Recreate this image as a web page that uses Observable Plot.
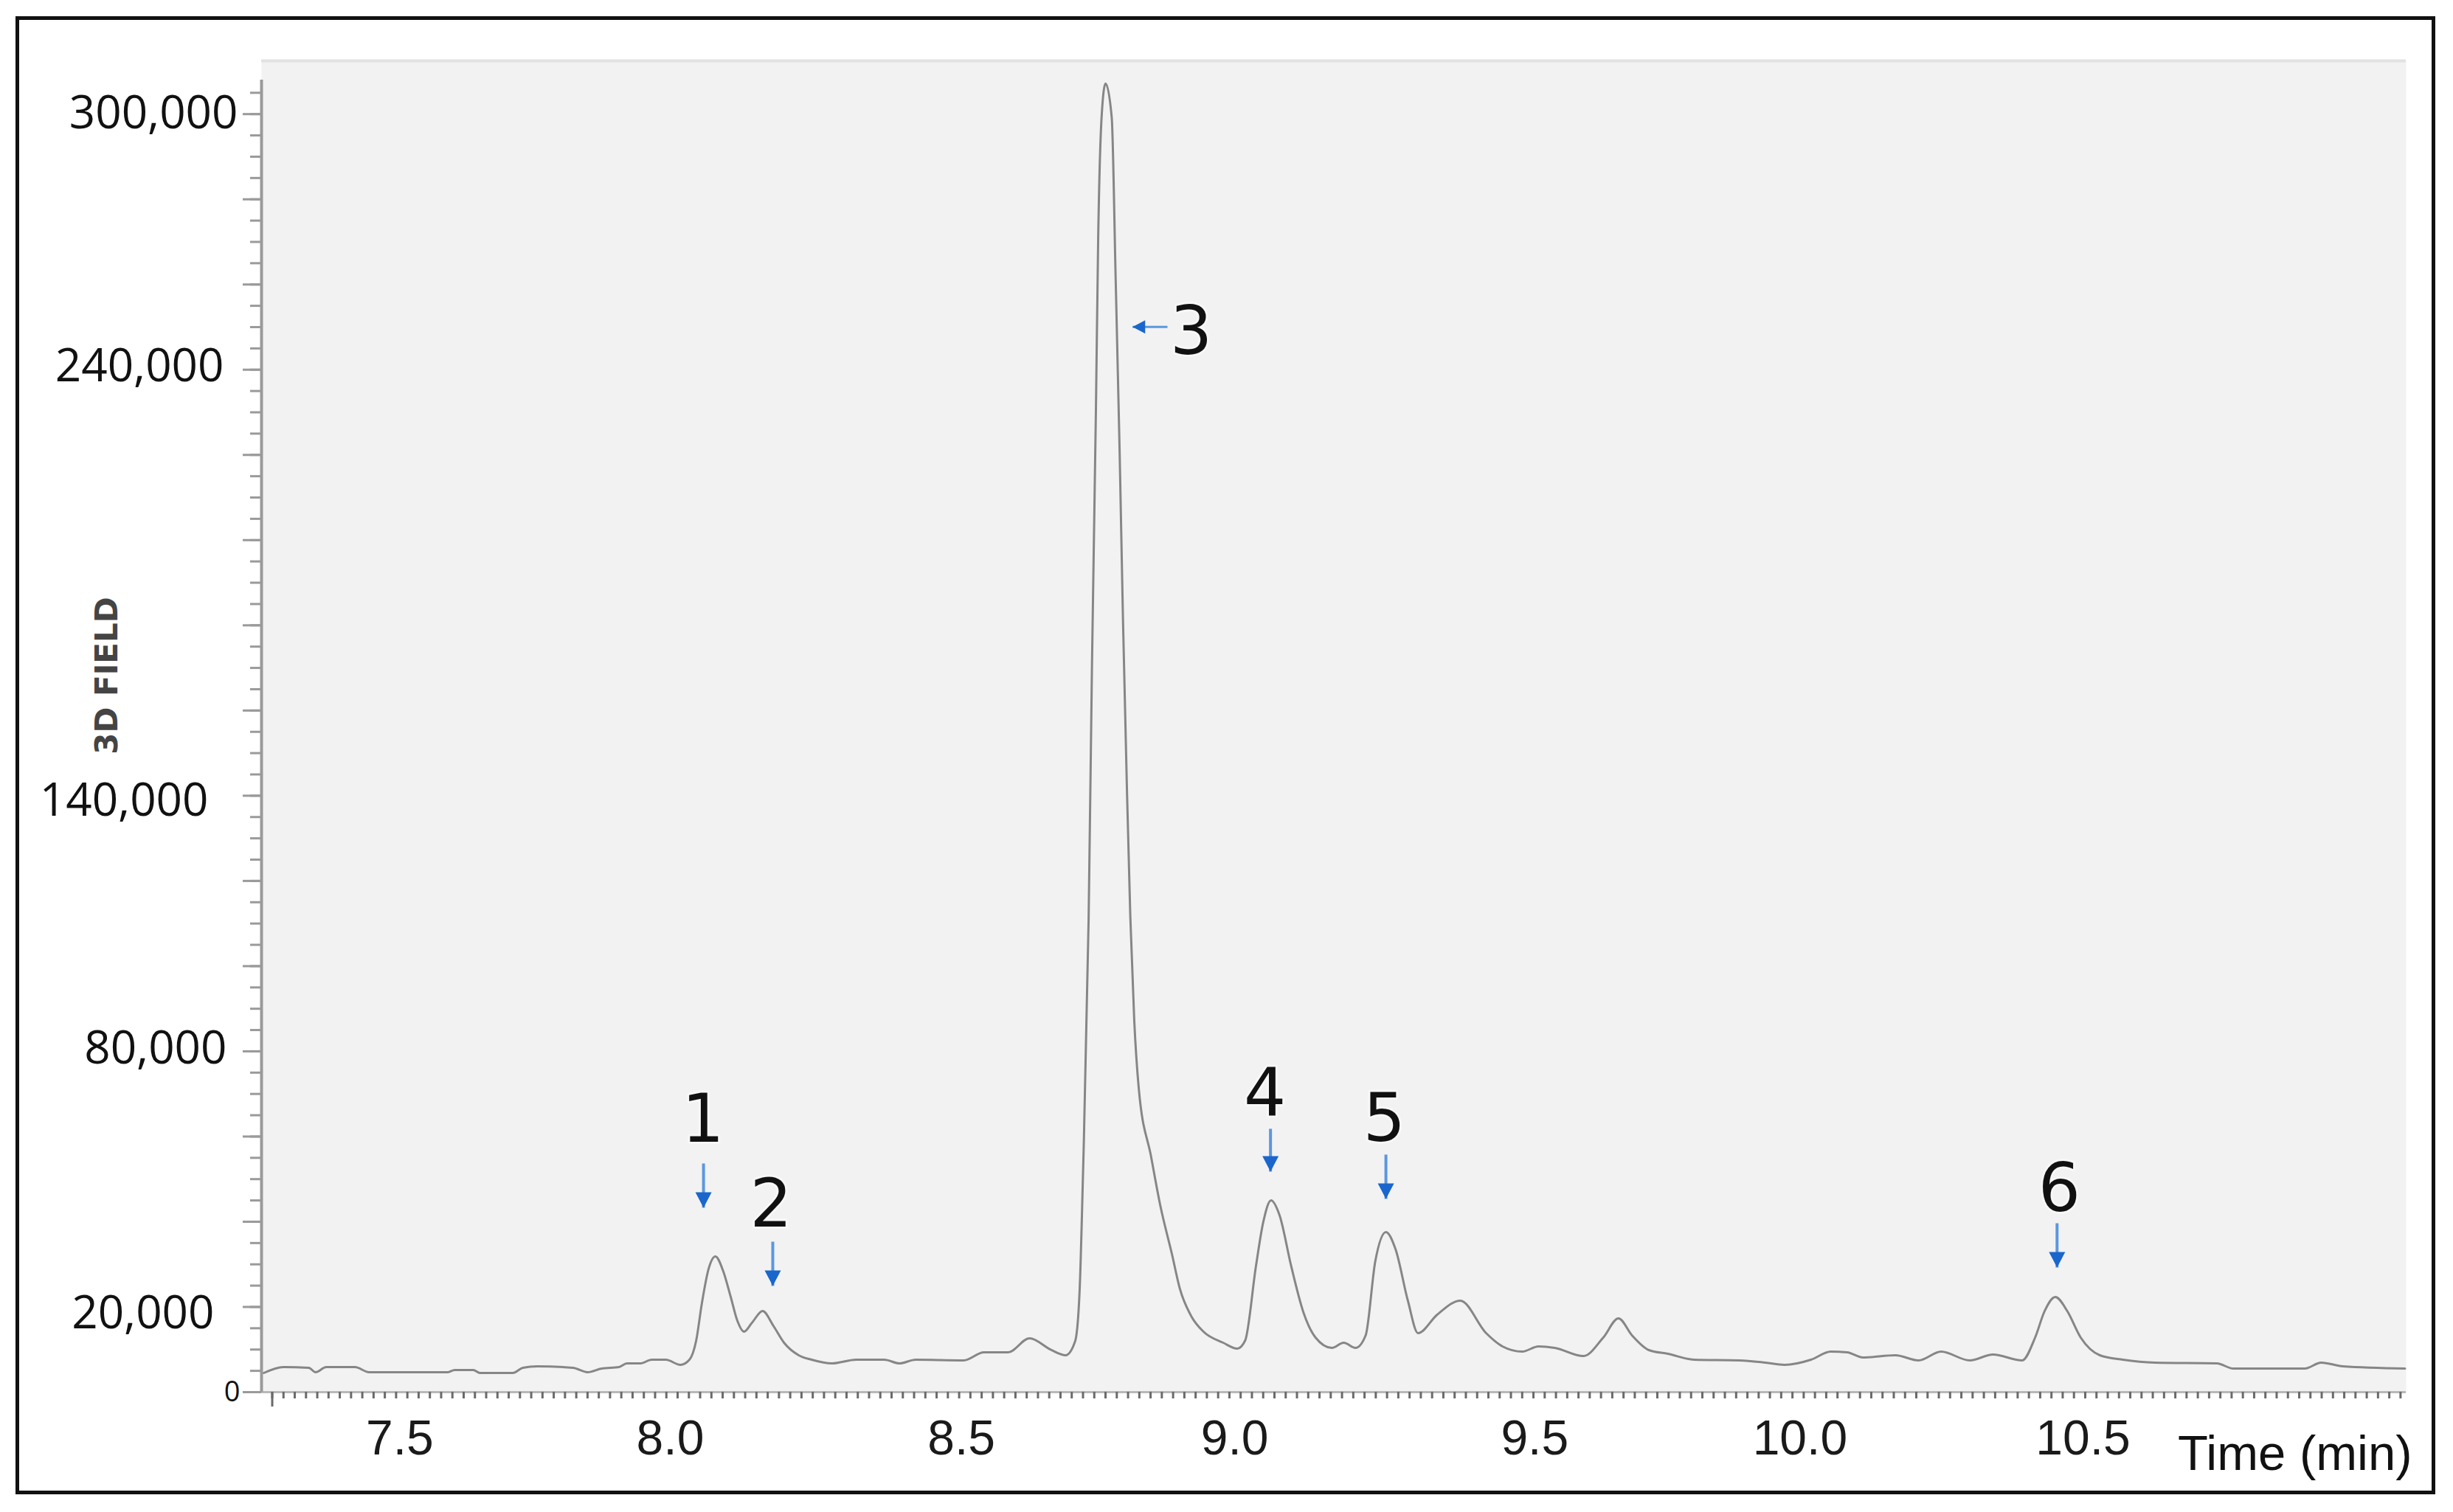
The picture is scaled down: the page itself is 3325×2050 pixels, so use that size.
<!DOCTYPE html>
<html>
<head>
<meta charset="utf-8">
<script src="https://cdn.jsdelivr.net/npm/d3@7"></script>
<script src="https://cdn.jsdelivr.net/npm/@observablehq/plot@0.6"></script>
<style>
  html, body { margin: 0; padding: 0; background: #ffffff; }
  #wrap { position: relative; width: 3325px; height: 2050px; }
  #border { position: absolute; left: 21px; top: 22px; width: 3280px; height: 2004px;
            border: 5px solid #111; box-sizing: border-box; pointer-events: none; }
</style>
</head>
<body>
<div id="wrap"><div id="chart"></div><div id="border"></div></div>
<script>
// ---- data ----
const timeMin = [
  7.265, 7.300, 7.345, 7.357, 7.376, 7.427, 7.452, 7.592, 7.604, 7.637,
  7.649, 7.707, 7.725, 7.751, 7.814, 7.840, 7.865, 7.896, 7.910, 7.934,
  7.954, 7.979, 8.005, 8.021, 8.033, 8.043, 8.055, 8.067, 8.081, 8.094,
  8.106, 8.118, 8.132, 8.151, 8.170, 8.189, 8.215, 8.238, 8.274, 8.317,
  8.367, 8.394, 8.423, 8.508, 8.544, 8.587, 8.625, 8.664, 8.689, 8.706,
  8.714, 8.720, 8.730, 8.736, 8.743, 8.747, 8.753, 8.760, 8.771, 8.778,
  8.785, 8.791, 8.798, 8.804, 8.811, 8.819, 8.841, 8.857, 8.878, 8.892,
  8.913, 8.934, 8.969, 8.994, 9.008, 9.027, 9.040, 9.054, 9.069, 9.090,
  9.112, 9.133, 9.162, 9.183, 9.204, 9.222, 9.239, 9.258, 9.275, 9.297,
  9.315, 9.349, 9.390, 9.436, 9.465, 9.500, 9.529, 9.558, 9.609, 9.644,
  9.671, 9.695, 9.725, 9.759, 9.805, 9.886, 9.932, 9.966, 10.013, 10.048,
  10.077, 10.105, 10.163, 10.204, 10.244, 10.295, 10.336, 10.388, 10.411, 10.428,
  10.447, 10.468, 10.492, 10.526, 10.567, 10.624, 10.734, 10.763, 10.890, 10.919,
  10.958, 11.068
];
const signal = [
  4500, 5890, 5710, 4680, 5890, 5890, 4680, 4680, 5200, 5200,
  4500, 4500, 5710, 6060, 5710, 4680, 5540, 5890, 6750, 6750,
  7620, 7620, 6410, 7620, 12120, 20780, 28920, 31860, 28400, 22510,
  16800, 14200, 16280, 19050, 15580, 11600, 8660, 7620, 6750, 7620,
  7620, 6750, 7620, 7450, 9350, 9350, 12640, 9870, 8660, 11950,
  23900, 51260, 111170, 171250, 231170, 271170, 299220, 307190, 299220, 261300,
  221130, 181300, 141640, 111690, 87270, 71340, 55240, 43980, 32380, 24300,
  17660, 14200, 11600, 10220, 12120, 29440, 39830, 45020, 41560, 29440,
  18530, 12810, 10390, 11600, 10390, 13330, 30650, 37580, 33590, 21470,
  13850, 18180, 21470, 13850, 10740, 9520, 10740, 10390, 8480, 12810,
  17320, 13330, 9870, 9000, 7620, 7450, 6930, 6410, 7620, 9520,
  9350, 8140, 8660, 7450, 9520, 7450, 8830, 7450, 12810, 19050,
  22340, 19050, 12810, 8660, 7620, 6930, 6750, 5540, 5540, 6930,
  6060, 5540
];

// peak annotations
const peakLabels = ["1", "2", "3", "4", "5", "6"];
const peakLabelTime = [8.045, 8.166, 8.912, 9.043, 9.255, 10.454];
const peakLabelValue = [58700, 38790, 243640, 64760, 58870, 42420];

// vertical arrows (down) for peaks 1, 2, 4, 5, 6
const arrowPeak = ["1", "2", "4", "5", "6"];
const arrowTime = [8.046, 8.169, 9.053, 9.258, 10.450];
const arrowFrom = [53680, 35320, 61820, 55760, 39650];
const arrowTo = [43290, 24940, 51770, 45370, 29260];

// horizontal arrow (left) for peak 3
const arrow3TimeFrom = [8.870];
const arrow3TimeTo = [8.808];
const arrow3Value = [250040];

// axis tick labels
const yTickLabels = [0, 20000, 80000, 140000, 240000, 300000];
const xTickLabels = [7.5, 8.0, 8.5, 9.0, 9.5, 10.0, 10.5];
const xAxisTitle = "Time (min)";
const yAxisTitle = "3D FIELD";

// ---- styles (hand-placed label offsets of the original) ----
const yLabelStyle = {
  0:      {pad: 29, dy: 0,  size: 38},
  20000:  {pad: 64, dy: 9,  size: 62},
  80000:  {pad: 47, dy: -3, size: 62},
  140000: {pad: 72, dy: 7,  size: 62},
  240000: {pad: 51, dy: -4, size: 62},
  300000: {pad: 32, dy: -1, size: 62}
};
const xLabelDx = [5, -10, 3, -8, 17, -5, -3];

const xDomain = [7.261, 11.07];
const yDomain = [0, 312500];

const trace = timeMin.map((t, i) => ({t, v: signal[i]}));
const labels = peakLabels.map((p, i) => ({p, t: peakLabelTime[i], v: peakLabelValue[i]}));
const arrows = arrowPeak.map((p, i) => ({p, t: arrowTime[i], from: arrowFrom[i], to: arrowTo[i]}));
const arrow3 = arrow3Value.map((v, i) => ({v, t1: arrow3TimeFrom[i], t2: arrow3TimeTo[i]}));

const yMinor = d3.range(0, 305001, 5000);
const yMajor = d3.range(0, 300001, 20000);
const xMinor = d3.range(0, 190).map(i => +(7.28 + i * 0.02).toFixed(2));

const downHead = {
  draw(ctx, size) {
    const r = Math.sqrt(size / Math.PI);
    ctx.moveTo(0, 0); ctx.lineTo(-r, -1.9 * r); ctx.lineTo(r, -1.9 * r); ctx.closePath();
  }
};
const leftHead = {
  draw(ctx, size) {
    const r = Math.sqrt(size / Math.PI);
    ctx.moveTo(0, 0); ctx.lineTo(1.9 * r, -r); ctx.lineTo(1.9 * r, r); ctx.closePath();
  }
};

const blueShaft = "#5b97de";
const blueHead = "#1a66cc";

const marks = [
  Plot.frame({fill: "#f2f2f2", stroke: "none"}),
  Plot.ruleY([yDomain[1]], {stroke: "#e2e2e2", strokeWidth: 4}),
  // x axis line and ticks
  Plot.ruleY([0], {stroke: "#b8b8b8", strokeWidth: 3}),
  Plot.axisX(xMinor, {tickSize: 9, tickFormat: () => "", stroke: "#6a6a6a", strokeWidth: 3, label: null}),
  Plot.axisX([7.28], {tickSize: 20, tickFormat: () => "", stroke: "#6a6a6a", strokeWidth: 3, label: null}),
  ...xTickLabels.map((t, i) => Plot.axisX([t], {
    tickSize: 0, tickPadding: 38, dx: xLabelDx[i], fontSize: 66,
    fontFamily: "Liberation Sans", fill: "#1a1a1a", tickFormat: d3.format(".1f"), label: null
  })),
  // y axis line and ticks
  Plot.ruleX([xDomain[0]], {y1: 0, y2: 308000, stroke: "#9a9a9a", strokeWidth: 4}),
  Plot.axisY(yMinor, {tickSize: 15, tickFormat: () => "", stroke: "#9a9a9a", strokeWidth: 3, label: null}),
  Plot.axisY(yMajor, {tickSize: 25, tickFormat: () => "", stroke: "#9a9a9a", strokeWidth: 3, label: null}),
  ...yTickLabels.map(v => Plot.axisY([v], {
    tickSize: 0, tickPadding: yLabelStyle[v].pad, dy: yLabelStyle[v].dy,
    fontSize: yLabelStyle[v].size, fontFamily: "Open Sans", fill: "#111",
    tickFormat: d3.format(","), label: null
  })),
  // trace
  Plot.line(trace, {x: "t", y: "v", stroke: "#868686", strokeWidth: 3, curve: "monotone-x"}),
  // arrows
  Plot.link(arrows, {x1: "t", x2: "t", y1: "from", y2: "to", stroke: blueShaft, strokeWidth: 4}),
  Plot.dot(arrows, {x: "t", y: "to", symbol: downHead, r: 11, fill: blueHead}),
  Plot.link(arrow3, {x1: "t1", x2: "t2", y1: "v", y2: "v", stroke: blueShaft, strokeWidth: 3}),
  Plot.dot(arrow3, {x: "t2", y: "v", symbol: leftHead, r: 9, fill: blueHead}),
  // peak numbers
  Plot.text(labels, {
    x: "t", y: "v", text: "p", fontSize: 90, fontFamily: "DejaVu Sans",
    fill: "#111", lineAnchor: "bottom", textAnchor: "middle",
    stroke: "#fafafa", strokeWidth: 6, strokeOpacity: 0.7
  }),
  // axis titles
  Plot.text([yAxisTitle], {
    frameAnchor: "left", rotate: -90, dx: -209, dy: -69, textAnchor: "middle",
    fontSize: 42, fontWeight: "bold", fontFamily: "DejaVu Sans", fill: "#444"
  }),
  Plot.text([xAxisTitle], {
    frameAnchor: "bottom-right", textAnchor: "end", lineAnchor: "bottom",
    dx: 8, dy: 105, fontSize: 67, fontFamily: "Liberation Sans", fill: "#111"
  })
];

const chart = Plot.plot({
  width: 3325,
  height: 2050,
  marginLeft: 354,
  marginRight: 64,
  marginTop: 82,
  marginBottom: 163,
  style: {background: "transparent", fontFamily: "Open Sans", overflow: "visible"},
  x: {domain: xDomain, label: null},
  y: {domain: yDomain, label: null},
  marks
});
document.getElementById("chart").appendChild(chart);
</script>
</body>
</html>
